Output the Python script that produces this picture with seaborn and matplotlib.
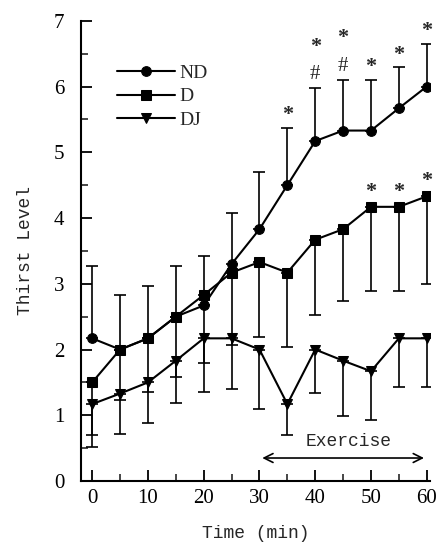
import matplotlib
matplotlib.use("Agg")
import matplotlib.pyplot as plt
from matplotlib.ticker import MultipleLocator
import seaborn as sns
import pandas as pd

# ---- data ----
time_min = [0, 5, 10, 15, 20, 25, 30, 35, 40, 45, 50, 55, 60]

nd_mean = [2.17, 2.0, 2.17, 2.5, 2.67, 3.3, 3.83, 4.5, 5.17, 5.33, 5.33, 5.67, 6.0]
nd_err_up = [1.1, 0.83, 0.8, 0.77, 0.75, 0.78, 0.87, 0.87, 0.8, 0.77, 0.77, 0.62, 0.65]

d_mean = [1.5, 2.0, 2.17, 2.5, 2.83, 3.17, 3.33, 3.17, 3.67, 3.83, 4.17, 4.17, 4.33]
d_err_down = [0.98, 0.77, 0.81, 0.92, 1.03, 1.1, 1.14, 1.13, 1.14, 1.09, 1.28, 1.28, 1.33]

dj_mean = [1.17, 1.33, 1.5, 1.83, 2.17, 2.17, 2.0, 1.17, 2.0, 1.83, 1.67, 2.17, 2.17]
dj_err_down = [0.47, 0.61, 0.62, 0.64, 0.81, 0.77, 0.9, 0.47, 0.66, 0.84, 0.74, 0.74, 0.74]

nd_star_times = [35, 40, 45, 50, 55, 60]
nd_hash_times = [40, 45]
d_star_times = [50, 55, 60]

exercise_start, exercise_end = 30, 60

df = pd.DataFrame({
    "Time": time_min * 3,
    "Thirst": nd_mean + d_mean + dj_mean,
    "Group": ["ND"] * 13 + ["D"] * 13 + ["DJ"] * 13,
})

# ---- style ----
sns.set_theme(style="ticks")
plt.rcParams["font.family"] = ["Liberation Serif", "DejaVu Serif"]
mono = ["Liberation Mono", "DejaVu Sans Mono"]

fig = plt.figure(figsize=(4.38, 5.46), dpi=100)
ax = fig.add_axes([0.185, 0.119, 0.797, 0.843])

# error bars first so the lines sit on top
ax.errorbar(time_min, nd_mean, yerr=[[0] * 13, nd_err_up], fmt="none",
            ecolor="black", elinewidth=1.2, capsize=4, capthick=1.2, zorder=1)
ax.errorbar(time_min, d_mean, yerr=[d_err_down, [0] * 13], fmt="none",
            ecolor="black", elinewidth=1.2, capsize=4, capthick=1.2, zorder=1)
ax.errorbar(time_min, dj_mean, yerr=[dj_err_down, [0] * 13], fmt="none",
            ecolor="black", elinewidth=1.2, capsize=4, capthick=1.2, zorder=1)

sns.lineplot(data=df, x="Time", y="Thirst", style="Group",
             markers={"ND": "o", "D": "s", "DJ": "v"}, dashes=False,
             color="black", linewidth=1.5, markersize=7, markeredgecolor="black",
             ax=ax, zorder=3)

# significance marks
for t in nd_star_times:
    i = time_min.index(t)
    top = nd_mean[i] + nd_err_up[i]
    off = 30 if t in nd_hash_times else 9
    ax.annotate("*", (t, top), xytext=(0, off), textcoords="offset points",
                ha="center", va="center", fontsize=16, fontweight="bold")
for t in nd_hash_times:
    i = time_min.index(t)
    top = nd_mean[i] + nd_err_up[i]
    ax.annotate("#", (t, top), xytext=(0, 10), textcoords="offset points",
                ha="center", va="center", fontsize=15)
for t in d_star_times:
    i = time_min.index(t)
    ax.annotate("*", (t, d_mean[i]), xytext=(0, 11), textcoords="offset points",
                ha="center", va="center", fontsize=16, fontweight="bold")

# exercise period
ax.annotate("", xy=(exercise_end, 0.35), xytext=(exercise_start, 0.35),
            arrowprops=dict(arrowstyle="<->", color="black", lw=1.2,
                            mutation_scale=16))
ax.text((exercise_start + exercise_end) / 2 + 1, 0.6, "Exercise",
        ha="center", va="center", fontsize=13, family=mono)

# axes
ax.set_xlim(-2, 60.6)
ax.set_ylim(0, 7)
ax.xaxis.set_major_locator(MultipleLocator(10))
ax.xaxis.set_minor_locator(MultipleLocator(5))
ax.yaxis.set_major_locator(MultipleLocator(1))
ax.yaxis.set_minor_locator(MultipleLocator(0.5))
ax.tick_params(which="major", direction="in", length=8, width=1.3,
               labelsize=15, pad=6, colors="black")
ax.tick_params(axis="y", which="major", pad=12)
ax.tick_params(which="minor", direction="in", length=5, width=1.2)
sns.despine(ax=ax)
for s in ("left", "bottom"):
    ax.spines[s].set_linewidth(1.5)
    ax.spines[s].set_color("black")

ax.set_xlabel("Time (min)", fontsize=13, family=mono, labelpad=12)
ax.set_ylabel("Thirst Level", fontsize=13, family=mono, labelpad=14)

leg = ax.legend(loc="upper left", bbox_to_anchor=(0.08, 0.922), frameon=False,
                handlelength=3.0, handletextpad=0.2, labelspacing=0.3,
                fontsize=14, borderaxespad=0)

fig.savefig("out.png", dpi=100)
